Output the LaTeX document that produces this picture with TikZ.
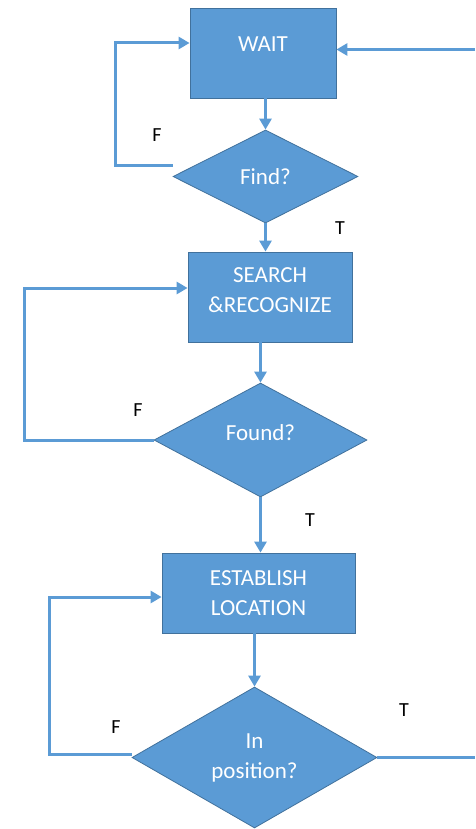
\documentclass[tikz,border=0pt]{standalone}
\usepackage{fontspec}
\setmainfont{Carlito}
\usepackage{tikz}
\usetikzlibrary{positioning, shapes.geometric, arrows.meta}
\definecolor{flowblue}{HTML}{5B9BD5}
\definecolor{flowedge}{HTML}{41719C}
\tikzset{
    block/.style={
        draw = flowedge, fill = flowblue,
        line width = 0.8pt,
        align = center,
        text = white,
        font = \fontsize{23}{30}\selectfont
    },
    decision/.style = {block, diamond, aspect = 1.7, inner sep = 0pt},
    flag/.style = {font = \fontsize{20}{22}\selectfont},
    line/.style = {flowblue, line width = 3pt, -{Triangle[length=11pt, width=12pt]}}
}
\begin{document}
\begin{tikzpicture}[x=1pt, y=-1pt]

    \useasboundingbox (0,0) rectangle (475,829);

    % Wait
    \node[block, minimum width = 146pt, minimum height = 90pt, text depth = 17pt] (wait) at (263,53) {WAIT};
    \node[decision, minimum width = 185pt, minimum height = 93pt] (find) at (265.5,176.5) {Find?};

    % Search
    \node[block, minimum width = 164pt, minimum height = 90pt, text depth = 13pt] (search) at (270,297) {SEARCH\\\&RECOGNIZE};
    \node[decision, minimum width = 213pt, minimum height = 114pt, text depth = 14pt] (found) at (260.5,440) {Found?};

    % Establish
    \node[block, minimum width = 193pt, minimum height = 80pt] (establish) at (258.5,593) {ESTABLISH\\LOCATION};
    \node[decision, minimum width = 245pt, minimum height = 141pt] (position) at (254.5,757.5) {In\\position?};

    % F / T
    \node[flag] (findF) at (157,135) {F};
    \node[flag] (findT) at (340,228) {T};
    \node[flag] (foundF) at (138,410) {F};
    \node[flag] (foundT) at (310,520) {T};
    \node[flag] (posF) at (116,727) {F};
    \node[flag] (posT) at (404,710) {T};

    \coordinate (backin) at (475,49.5);
    \coordinate (backout) at (475,757.5);

    % Lines
    \draw[line] (wait.south -| find.north) -- (find.north);
    \draw[line] (find.south) -- (find.south |- search.north);
    \draw[line] (search.south -| found.north) -- (found.north);
    \draw[line] (found.south) -- (found.south |- establish.north);
    \draw[line] (establish.south -| position.north) -- (position.north);

    \draw[line] ([yshift=11pt]find.west) -- +(-57,0) |- ([yshift=10pt]wait.west);
    \draw[line] (found.west) -- +(-129,0) |- ([yshift=9pt]search.west);
    \draw[line] ([yshift=3pt]position.west) -- +(-82,0) |- ([yshift=-4pt]establish.west);

    \draw[line, -] (position.east) -- (backout);
    \draw[line] (backin) -- (backin -| wait.east);

\end{tikzpicture}
\end{document}
